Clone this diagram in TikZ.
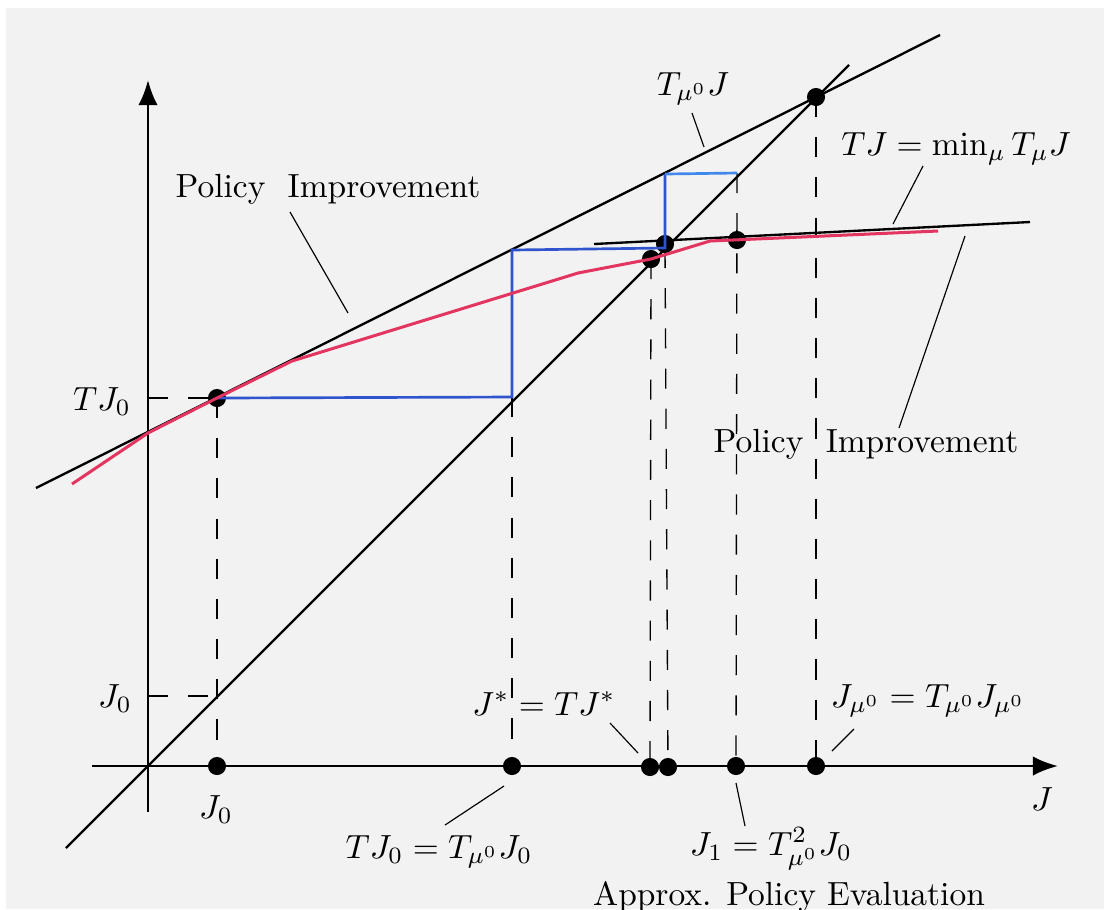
\documentclass[tikz,border=0pt]{standalone}
\usepackage{amsmath}
\usetikzlibrary{arrows.meta,calc}
\definecolor{bggray}{RGB}{242,242,242}
\definecolor{pired}{RGB}{226,54,96}
\definecolor{stblue}{RGB}{48,84,205}
\definecolor{stlight}{RGB}{64,136,236}
\tikzset{
  axis/.style  = {line width=0.8pt, -{Latex[length=7.5pt,width=5.8pt]}},
  curve/.style = {line width=0.7pt},
  guide/.style = {line width=0.4pt, dash pattern=on 6pt off 6pt},
  lead/.style  = {line width=0.35pt},
  dot/.style   = {circle, fill, inner sep=0pt, minimum size=5.4pt},
  lbl/.style   = {anchor=base, inner sep=0pt}
}

\begin{document}
\begin{tikzpicture}[x=0.0105cm, y=-0.0105cm]
  \useasboundingbox (0,0) rectangle (1104,909);
  \fill[bggray] (6,8) rectangle (1104,909);

  % axes
  \coordinate (xs) at (92,766);
  \coordinate (xe) at (1058,766);
  \coordinate (ys) at (148,812);
  \coordinate (ye) at (148,80);
  \draw[axis] (xs) -- (xe);
  \draw[axis] (ys) -- (ye);

  % points
  \node[dot] (a0) at (217,766) {};
  \node[dot] (a1) at (512,766) {};
  \node[dot] (a2) at (650,767) {};
  \node[dot] (a3) at (668,767) {};
  \node[dot] (a4) at (736,766) {};
  \node[dot] (a5) at (816,766) {};
  \node[dot] (p0) at (217,398) {};
  \node[dot] (pf) at (816,97) {};
  \node[dot] (pc) at (665,244) {};
  \node[dot] (ps) at (651,259) {};
  \node[dot] (p1) at (737,240) {};
  \coordinate (b1) at (512,397);
  \coordinate (b2) at (512,250);
  \coordinate (b3) at (665,248);
  \coordinate (b4) at (665,174);
  \coordinate (b5) at (737,173);
  \coordinate (yT) at (148,398);
  \coordinate (yJ) at (148,696);
  \coordinate (dJ) at (217,696);

  % dashed guides
  \draw[guide] (yT) -- (p0.center);
  \draw[guide] (yJ) -- (dJ);
  \draw[guide] (p0.center) -- (a0.center);
  \draw[guide] (b1) -- (a1.center);
  \draw[guide] (ps.center) -- (a2.center);
  \draw[guide] (b3) -- (a3.center);
  \draw[guide] (b5) -- (a4.center);
  \draw[guide] (pf.center) -- (a5.center);

  % lines J, T_mu0 J, TJ
  \coordinate (dA) at (66,848);
  \coordinate (dB) at (849,65);
  \coordinate (tA) at (36,488);
  \coordinate (tB) at (940,35);
  \coordinate (mA) at (594,244);
  \coordinate (mB) at (1030,222);
  \draw[curve] (dA) -- (dB);
  \draw[curve] (tA) -- (tB);
  \draw[curve] (mA) -- (mB);

  % staircase
  \draw[stblue, line width=0.8pt] (p0.center) -- (b1) -- (b2) -- (b3) -- (b4);
  \draw[stlight, line width=0.8pt] (b4) -- (b5);

  % approximate TJ
  \draw[pired, line width=0.9pt] (72,484) -- (148,433) -- (217,398) -- (292,361)
    -- (578,273) -- (651,259) -- (710,241) -- (938,231);

  % labels
  \node[lbl] (pi1) at (328,197) {Policy\ \ Improvement};
  \node[lbl] (pi2) at (866,452) {Policy\ \ Improvement};
  \node[lbl] (tmu) at (693,95) {$T_{\mu^0}J$};
  \node[lbl] (tmin) at (956,155) {$TJ=\min_\mu T_\mu J$};
  \node[lbl] (jst) at (544,715) {$J^*=TJ^*$};
  \node[lbl] (jmu) at (928,707) {$J_{\mu^0}=T_{\mu^0}J_{\mu^0}$};
  \node[lbl] (tj0) at (439,858) {$TJ_0=T_{\mu^0}J_0$};
  \node[lbl] (j1) at (771,855) {$J_1=T^2_{\mu^0}J_0$};
  \node[lbl] (ape) at (789,905) {Approx. Policy Evaluation};
  \node[lbl] (jx0) at (216,818) {$J_0$};
  \node[lbl] (jx) at (1042,810) {$J$};
  \node[lbl] (ty0) at (102,410) {$TJ_0$};
  \node[lbl] (jy0) at (115,707) {$J_0$};

  % leader lines
  \coordinate (l1a) at (290,212); \coordinate (l1b) at (348,313);
  \coordinate (l2a) at (692,113); \coordinate (l2b) at (704,147);
  \coordinate (l3a) at (923,166); \coordinate (l3b) at (893,224);
  \coordinate (l4a) at (965,236); \coordinate (l4b) at (899,428);
  \coordinate (l5a) at (610,723); \coordinate (l5b) at (638,753);
  \coordinate (l6a) at (854,729); \coordinate (l6b) at (832,751);
  \coordinate (l7a) at (504,786); \coordinate (l7b) at (445,825);
  \coordinate (l8a) at (736,783); \coordinate (l8b) at (745,826);
  \draw[lead] (l1a) -- (l1b);
  \draw[lead] (l2a) -- (l2b);
  \draw[lead] (l3a) -- (l3b);
  \draw[lead] (l4a) -- (l4b);
  \draw[lead] (l5a) -- (l5b);
  \draw[lead] (l6a) -- (l6b);
  \draw[lead] (l7a) -- (l7b);
  \draw[lead] (l8a) -- (l8b);
\end{tikzpicture}
\end{document}
